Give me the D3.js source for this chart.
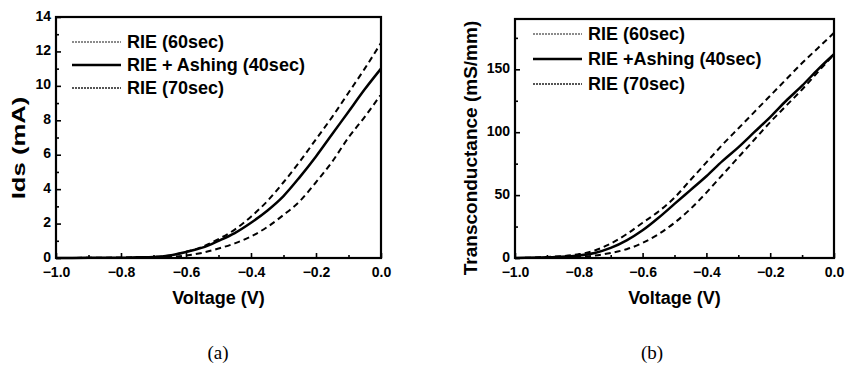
<!DOCTYPE html>
<html>
<head>
<meta charset="utf-8">
<script src="https://cdn.jsdelivr.net/npm/d3@7"></script>
<style>
  body { margin: 0; background: #fff; }
  svg { display: block; font-family: 'Liberation Sans', Arial, sans-serif; }
</style>
</head>
<body>
<svg id="chart" width="845" height="385"></svg>
<script>
// voltage samples shared by every curve
const voltage = [-1.0, -0.9, -0.8, -0.75, -0.7, -0.65, -0.6, -0.55, -0.5, -0.45, -0.4,
  -0.35, -0.3, -0.25, -0.2, -0.15, -0.1, -0.05, 0.0]

const seriesNames = ['RIE (60sec)', 'RIE + Ashing (40sec)', 'RIE (70sec)']
const seriesNamesB = ['RIE (60sec)', 'RIE +Ashing (40sec)', 'RIE (70sec)']

// (a) drain current, mA
const ids60 = [0, 0.01, 0.02, 0.04, 0.06, 0.15, 0.35, 0.65, 1.1, 1.65, 2.4, 3.3, 4.4, 5.6, 6.9, 8.2, 9.6, 11.0, 12.5]
const ids40 = [0, 0.01, 0.02, 0.04, 0.06, 0.15, 0.35, 0.6, 1.0, 1.45, 2.05, 2.75, 3.6, 4.7, 5.9, 7.2, 8.5, 9.8, 11.0]
const ids70 = [0, 0, 0.01, 0.01, 0.02, 0.06, 0.15, 0.3, 0.55, 0.85, 1.25, 1.8, 2.5, 3.3, 4.4, 5.6, 7.0, 8.2, 9.5]

// (b) transconductance, mS/mm
const gm60 = [0, 0.8, 3, 6, 11.5, 19, 28, 37, 48, 62, 76, 90, 103, 116, 129, 142, 155, 167, 179]
const gm40 = [0, 0.5, 2, 4, 8, 14, 22, 32, 43, 54, 65, 77, 88, 100, 112, 125, 137, 150, 162]
const gm70 = [0, 0.2, 1, 2, 4, 7, 12, 19, 28, 39, 52, 66, 80, 94, 108, 121, 134, 148, 162]

const svg = d3.select('#chart')

// dashed for the RIE runs, thick solid for the ashing run
const curveStyle = [
  { dash: '6,4', width: 2 },
  { dash: null, width: 2.5 },
  { dash: '6,4', width: 2 }
]
const legendStyle = [
  { dash: '2,1', width: 1.6, color: '#666' },
  { dash: null, width: 2.6, color: '#000' },
  { dash: '2,1', width: 2, color: '#555' }
]

const font = "'Liberation Sans', Arial, sans-serif"

function panel(opts) {
  const { left, right, top, bottom } = opts
  const x = d3.scaleLinear().domain([-1, 0]).range([left, right])
  const y = d3.scaleLinear().domain([0, opts.yMax]).range([bottom, top])

  const g = svg.append('g')

  // minor ticks
  g.append('g')
    .attr('transform', `translate(0,${bottom})`)
    .call(d3.axisBottom(x).tickValues(d3.range(-0.9, 0, 0.2)).tickSize(-3).tickFormat(''))
  g.append('g')
    .attr('transform', `translate(${left},0)`)
    .call(d3.axisLeft(y).tickValues(opts.yMinor).tickSize(-3).tickFormat(''))

  // major ticks + labels
  g.append('g')
    .attr('transform', `translate(0,${bottom})`)
    .call(d3.axisBottom(x).tickValues([-1, -0.8, -0.6, -0.4, -0.2, 0])
      .tickSize(-5).tickPadding(9).tickFormat(d3.format('.1f')))
  g.append('g')
    .attr('class', 'yaxis')
    .attr('transform', `translate(${left},0)`)
    .call(d3.axisLeft(y).tickValues(opts.yMajor).tickSize(-5).tickPadding(5).tickFormat(d3.format('d')))

  g.selectAll('.domain').remove()
  g.selectAll('.tick line').attr('stroke', '#000').attr('stroke-width', 1.6)
  g.selectAll('.tick text')
    .attr('fill', '#000')
    .style('font-family', font)
    .style('font-size', '14px')
    .style('font-weight', '700')
  g.selectAll('.yaxis .tick text').attr('dy', '0.22em')

  // frame
  g.append('rect')
    .attr('x', left)
    .attr('y', top)
    .attr('width', right - left)
    .attr('height', bottom - top)
    .attr('fill', 'none')
    .attr('stroke', '#000')
    .attr('stroke-width', 2.2)

  const line = d3.line()
    .x((d, i) => x(voltage[i]))
    .y(d => y(d))
    .curve(d3.curveMonotoneX)

  opts.series.forEach((s, i) => {
    g.append('path')
      .datum(s)
      .attr('d', line)
      .attr('fill', 'none')
      .attr('stroke', '#000')
      .attr('stroke-width', curveStyle[i].width)
      .attr('stroke-dasharray', curveStyle[i].dash)
  })

  // legend
  opts.names.forEach((name, i) => {
    const ly = opts.legend.y + i * opts.legend.step
    g.append('line')
      .attr('x1', opts.legend.x)
      .attr('x2', opts.legend.x + 49)
      .attr('y1', ly)
      .attr('y2', ly)
      .attr('stroke', legendStyle[i].color)
      .attr('stroke-width', legendStyle[i].width)
      .attr('stroke-dasharray', legendStyle[i].dash)
    g.append('text')
      .attr('x', opts.legend.x + 55)
      .attr('y', ly)
      .attr('dy', '0.36em')
      .style('font-size', '18px')
      .style('font-weight', 'bold')
      .text(name)
  })

  // axis titles
  g.append('text')
    .attr('x', (left + right) / 2)
    .attr('y', 304)
    .attr('text-anchor', 'middle')
    .style('font-size', '18px')
    .style('font-weight', 'bold')
    .text('Voltage (V)')

  g.append('text')
    .attr('transform', `translate(${opts.yTitleX},148) rotate(-90) scale(${opts.yTitleStretch},1)`)
    .attr('text-anchor', 'middle')
    .style('font-size', '19px')
    .style('font-weight', 'bold')
    .text(opts.yTitle)

  g.append('text')
    .attr('x', opts.captionX)
    .attr('y', 359)
    .attr('text-anchor', 'middle')
    .style('font-family', "'Liberation Serif', 'Times New Roman', serif")
    .style('font-size', '19px')
    .text(opts.caption)
}

panel({
  left: 56, right: 381, top: 17, bottom: 258,
  yMax: 14,
  yMajor: d3.range(0, 15, 2),
  yMinor: d3.range(1, 14, 2),
  series: [ids60, ids40, ids70],
  names: seriesNames,
  legend: { x: 72, y: 42, step: 23 },
  yTitle: 'Ids (mA)', yTitleX: 25, yTitleStretch: 1.35,
  caption: '(a)', captionX: 218
})

panel({
  left: 515, right: 834, top: 19, bottom: 258,
  yMax: 190,
  yMajor: [0, 50, 100, 150],
  yMinor: [25, 75, 125, 175],
  series: [gm60, gm40, gm70],
  names: seriesNamesB,
  legend: { x: 533, y: 34, step: 25 },
  yTitle: 'Transconductance (mS/mm)', yTitleX: 477, yTitleStretch: 1,
  caption: '(b)', captionX: 652
})
</script>
</body>
</html>
